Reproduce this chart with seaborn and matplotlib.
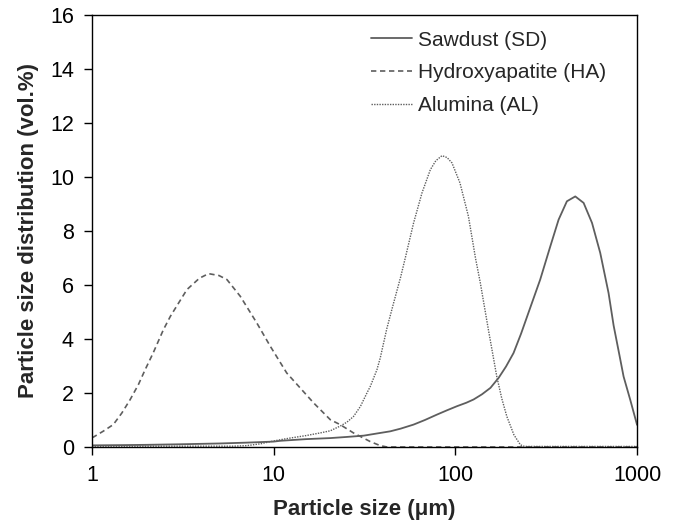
import matplotlib
matplotlib.use("Agg")
import matplotlib.pyplot as plt
import seaborn as sns
import pandas as pd
from matplotlib.ticker import FixedLocator, NullLocator, FixedFormatter

# ---- data ----
sd_x = [1, 1.5, 2, 3, 5, 7, 10, 10.9, 15, 20.5, 25, 31.3, 37, 43.8, 50, 58.9, 68, 79.2, 90, 102,
        115, 126, 140, 156, 173, 190, 209, 230, 258, 293, 333, 370, 411, 457, 508,
        565, 627, 697, 743, 800, 843, 917, 1000]
sd_y = [0.06, 0.07, 0.08, 0.1, 0.13, 0.16, 0.2, 0.23, 0.29, 0.33, 0.37, 0.42, 0.5, 0.58, 0.68, 0.83,
        1.0, 1.2, 1.36, 1.51, 1.64, 1.76, 1.95, 2.19, 2.56, 2.98, 3.48, 4.2, 5.15, 6.2, 7.43,
        8.42, 9.1, 9.28, 9.04, 8.3, 7.19, 5.7, 4.5, 3.4, 2.61, 1.75, 0.82]

ha_x = [1.0, 1.02, 1.15, 1.31, 1.46, 1.62, 1.80, 1.96, 2.17, 2.47, 2.70, 3.33, 3.9, 4.38, 5.0,
        5.53, 6.55, 8.08, 9.58, 11.8, 16.6, 20.5, 23.2, 27.5, 30, 34, 38.6, 42, 60, 100, 200,
        500, 1000]
ha_y = [0.35, 0.37, 0.58, 0.83, 1.26, 1.75, 2.31, 2.86, 3.48, 4.34, 4.84, 5.83, 6.25, 6.42, 6.35,
        6.2, 5.58, 4.59, 3.73, 2.74, 1.63, 1.01, 0.83, 0.52, 0.39, 0.2, 0.05, 0.0, 0.0, 0.0, 0.0,
        0.0, 0.0]

al_x = [1, 2, 4, 6, 7.1, 8.5, 9.6, 10.9, 12.3, 15, 18, 20.5, 23.3, 25.3, 27.5, 30, 32.6, 34, 37,
        38.6, 42, 45.7, 50, 53, 58.9, 65.5, 72.8, 78, 84.4, 90, 95.8, 106, 118, 129, 137, 152,
        169, 180, 192, 210, 228, 240, 300, 500, 1000]
al_y = [0.03, 0.03, 0.03, 0.03, 0.05, 0.12, 0.2, 0.27, 0.33, 0.42, 0.52, 0.6, 0.78, 0.92, 1.13,
        1.5, 2.0, 2.24, 2.86, 3.3, 4.4, 5.33, 6.3, 7.0, 8.3, 9.41, 10.27, 10.6, 10.79, 10.72,
        10.52, 9.78, 8.54, 7.0, 6.1, 4.34, 2.61, 1.8, 1.13, 0.45, 0.08, 0.02, 0.02, 0.02, 0.02]

labels = ["Sawdust (SD)", "Hydroxyapatite (HA)", "Alumina (AL)"]
x_ticks = [1, 10, 100, 1000]
x_ticklabels = ["1", "10", "100", "1000"]
y_ticks = [0, 2, 4, 6, 8, 10, 12, 14, 16]

# ---- plotting ----
sns.set_style("ticks")
plt.rcParams['font.family'] = ['Liberation Sans', 'DejaVu Sans']

fig = plt.figure(figsize=(6.77, 5.22), dpi=100)
ax = fig.add_axes([0.1359, 0.1437, 0.8051, 0.8276])

col = "#5e5e5e"
series = [(sd_x, sd_y, "-", 1.3), (ha_x, ha_y, (0, (3.2, 2.2)), 1.2), (al_x, al_y, (0, (1, 0.9)), 1.0)]
for (xs, ys, ls, lw), lab in zip(series, labels):
    df = pd.DataFrame({"x": xs, "y": ys})
    sns.lineplot(data=df, x="x", y="y", ax=ax, color=col, linestyle=ls, linewidth=lw,
                 label=lab, sort=True)

ax.set_xscale("log")
ax.set_xlim(1, 1000)
ax.set_ylim(0, 16)
ax.xaxis.set_major_locator(FixedLocator(x_ticks))
ax.xaxis.set_major_formatter(FixedFormatter(x_ticklabels))
ax.xaxis.set_minor_locator(NullLocator())
ax.set_yticks(y_ticks)

for s in ax.spines.values():
    s.set_visible(True)
    s.set_color("black")
    s.set_linewidth(1.0)

ax.tick_params(axis="both", which="major", direction="out", length=6, width=1.0,
               labelsize=15.5, color="black", labelcolor="black", pad=7)

ax.set_xlabel("Particle size (μm)", fontsize=16, fontweight="bold", labelpad=9)
ax.set_ylabel("Particle size distribution (vol.%)", fontsize=16, fontweight="bold", labelpad=8)

leg = ax.legend(loc="upper left", frameon=False, fontsize=15, handlelength=1.95,
                handletextpad=0.3, labelspacing=0.67, borderaxespad=0, borderpad=0,
                bbox_to_anchor=(0.512, 0.964))

fig.savefig("out.png", dpi=100, facecolor="white")
